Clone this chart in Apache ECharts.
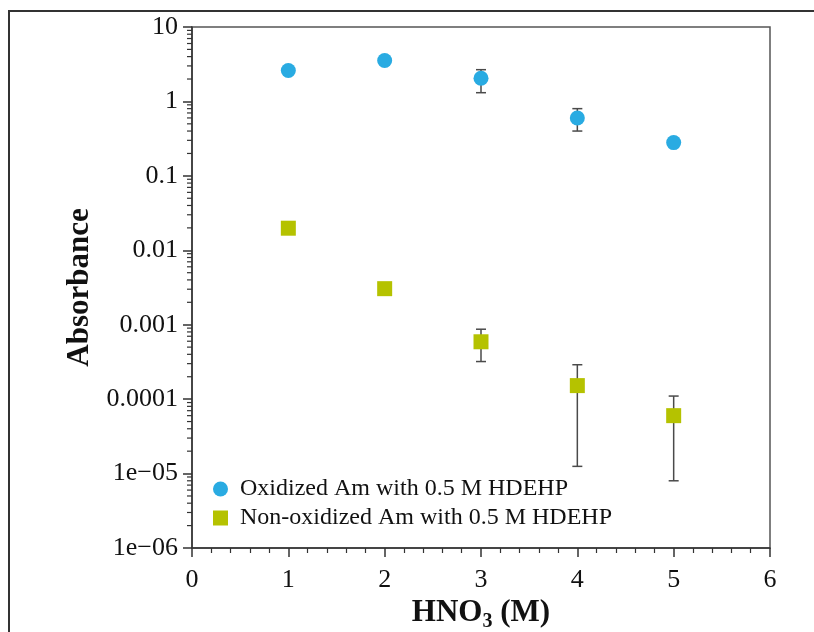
<!DOCTYPE html>
<html>
<head>
<meta charset="utf-8">
<script src="https://cdn.jsdelivr.net/npm/echarts@6/dist/echarts.min.js"></script>
<style>
  html, body { margin: 0; padding: 0; background: #fff; }
  #chart { width: 814px; height: 632px; }
</style>
</head>
<body>
<div id="chart"></div>
<script>
// HNO3 concentration (M)
var xValues = [1, 2, 3, 4, 5];

// Oxidized Am with 0.5 M HDEHP
var oxidized = [2.6, 3.55, 2.05, 0.6, 0.28];
var oxidizedLow = [null, null, 1.31, 0.40, null];
var oxidizedHigh = [null, null, 2.67, 0.80, null];

// Non-oxidized Am with 0.5 M HDEHP
var nonOxidized = [0.0198, 0.00305, 0.00059, 0.000152, 0.00006];
var nonOxidizedLow = [null, null, 0.00032, 0.0000125, 0.000008];
var nonOxidizedHigh = [null, null, 0.00087, 0.00029, 0.00011];

var seriesNames = ['Oxidized Am with 0.5 M HDEHP', 'Non-oxidized Am with 0.5 M HDEHP'];
var xTickLabels = ['0', '1', '2', '3', '4', '5', '6'];
var yTickLabels = ['1e\u221206', '1e\u221205', '0.0001', '0.001', '0.01', '0.1', '1', '10'];
var yMinExp = -6, yMaxExp = 1;

var blue = '#29abe2';
var green = '#b5c200';
var serif = "'Liberation Serif', 'Times New Roman', serif";

function pairs(ys) {
  return xValues.map(function (x, i) { return [x, ys[i]]; });
}
function errs(lo, hi) {
  var out = [];
  xValues.forEach(function (x, i) {
    if (lo[i] != null) out.push([x, lo[i], hi[i]]);
  });
  return out;
}

// minor ticks at 2..9 of each decade
var minorTicks = [];
for (var e = yMinExp; e < yMaxExp; e++) {
  for (var m = 2; m <= 9; m++) minorTicks.push([0, m * Math.pow(10, e)]);
}

function renderErr(params, api) {
  var top = api.coord([api.value(0), api.value(2)]);
  var bot = api.coord([api.value(0), api.value(1)]);
  var st = { stroke: '#4a4a4a', lineWidth: 1.5 };
  return {
    type: 'group',
    children: [
      { type: 'line', shape: { x1: top[0], y1: top[1], x2: bot[0], y2: bot[1] }, style: st },
      { type: 'line', shape: { x1: top[0] - 5, y1: top[1], x2: top[0] + 5, y2: top[1] }, style: st },
      { type: 'line', shape: { x1: bot[0] - 5, y1: bot[1], x2: bot[0] + 5, y2: bot[1] }, style: st }
    ]
  };
}

var chart = echarts.init(document.getElementById('chart'));
var option = {
  backgroundColor: '#fff',
  animation: false,
  grid: {
    left: 192, right: 44, top: 27, bottom: 84,
    outerBoundsMode: 'none', containLabel: false,
    show: true, borderColor: '#555', borderWidth: 1.5
  },
  graphic: [{
    type: 'polyline',
    shape: { points: [[9, 640], [9, 11], [820, 11]] },
    style: { stroke: '#333', lineWidth: 2, fill: null }
  }],
  legend: {
    orient: 'vertical',
    left: 208, top: 472,
    itemWidth: 15, itemHeight: 15, itemGap: 5,
    data: [
      { name: seriesNames[0], icon: 'circle' },
      { name: seriesNames[1], icon: 'rect' }
    ],
    textStyle: { fontFamily: serif, fontSize: 24, color: '#111', lineHeight: 24, padding: [0, 0, 0, 7] }
  },
  xAxis: {
    type: 'value', min: 0, max: 6, interval: 1,
    name: '{a|HNO}{b|3}{a| (M)}',
    nameLocation: 'middle', nameGap: 46,
    nameTextStyle: {
      rich: {
        a: { fontFamily: serif, fontWeight: 'bold', fontSize: 31, color: '#111', lineHeight: 36 },
        b: { fontFamily: serif, fontWeight: 'bold', fontSize: 20, color: '#111', lineHeight: 14, verticalAlign: 'bottom' }
      }
    },
    axisLine: { lineStyle: { color: '#333', width: 1.5 } },
    axisTick: { length: 9, lineStyle: { color: '#333', width: 1.5 } },
    minorTick: { show: true, splitNumber: 5, length: 5, lineStyle: { color: '#333', width: 1.2 } },
    splitLine: { show: false },
    axisLabel: {
      margin: 19, fontFamily: serif, fontSize: 26, color: '#111',
      formatter: function (v) { return xTickLabels[Math.round(v)]; }
    }
  },
  yAxis: {
    type: 'log', logBase: 10, min: Math.pow(10, yMinExp), max: Math.pow(10, yMaxExp),
    name: 'Absorbance',
    nameLocation: 'middle', nameGap: 94,
    nameTextStyle: { fontFamily: serif, fontWeight: 'bold', fontSize: 31, color: '#111' },
    axisLine: { show: true, lineStyle: { color: '#333', width: 1.5 } },
    axisTick: { show: true, length: 9, lineStyle: { color: '#333', width: 1.5 } },
    splitLine: { show: false },
    axisLabel: {
      margin: 14, fontFamily: serif, fontSize: 26, color: '#111',
      formatter: function (v) { return yTickLabels[Math.round(Math.log10(v)) - yMinExp]; }
    }
  },
  series: [
    {
      type: 'custom', silent: true, clip: false, z: 1,
      data: minorTicks,
      renderItem: function (params, api) {
        var p = api.coord([api.value(0), api.value(1)]);
        return { type: 'line', shape: { x1: p[0] - 5, y1: p[1], x2: p[0], y2: p[1] }, style: { stroke: '#333', lineWidth: 1.2 } };
      }
    },
    { type: 'custom', silent: true, z: 2, data: errs(oxidizedLow, oxidizedHigh), renderItem: renderErr },
    { type: 'custom', silent: true, z: 2, data: errs(nonOxidizedLow, nonOxidizedHigh), renderItem: renderErr },
    {
      name: seriesNames[0], type: 'scatter', z: 3,
      symbol: 'circle', symbolSize: 15,
      itemStyle: { color: blue, opacity: 1 },
      data: pairs(oxidized)
    },
    {
      name: seriesNames[1], type: 'scatter', z: 3,
      symbol: 'rect', symbolSize: 15,
      itemStyle: { color: green, opacity: 1 },
      data: pairs(nonOxidized)
    }
  ]
};
chart.setOption(option);
</script>
</body>
</html>
